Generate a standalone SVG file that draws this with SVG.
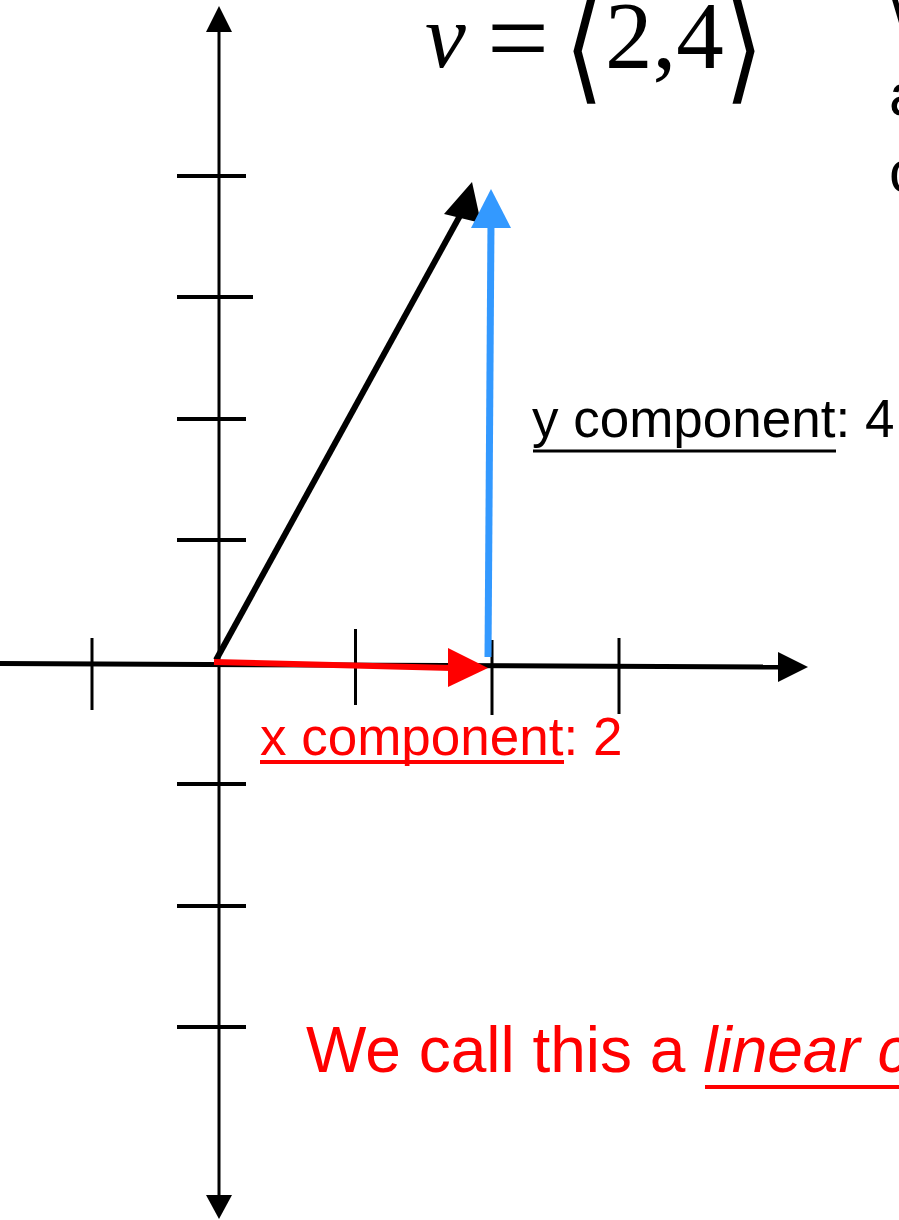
<svg xmlns="http://www.w3.org/2000/svg" width="899" height="1220" viewBox="0 0 899 1220">
<style>
.ax{stroke:#000;stroke-width:3;fill:none}
.tk{stroke:#000;stroke-width:4}
.tkx{stroke:#000;stroke-width:3}
.sans{font-family:"Liberation Sans",Arial,sans-serif}
.serif{font-family:"Liberation Serif","Times New Roman",serif}
.br{font-family:"DejaVu Serif",serif;font-size:100px}
</style>
<rect width="899" height="1220" fill="#fff"/>
<g id="axes">
  <line class="ax" x1="219" y1="28" x2="219" y2="1198"/>
  <polygon points="219,6 206,32 232,32" fill="#000"/>
  <polygon points="206,1195 232,1195 219,1219" fill="#000"/>
  <line x1="0" y1="663.5" x2="782" y2="667" stroke="#000" stroke-width="5"/>
  <polygon points="778,652 808,667 778,682" fill="#000"/>
  <line class="tk" x1="177" y1="176" x2="246" y2="176"/>
  <line class="tk" x1="177" y1="297" x2="253" y2="297"/>
  <line class="tk" x1="177" y1="419" x2="246" y2="419"/>
  <line class="tk" x1="177" y1="540" x2="246" y2="540"/>
  <line class="tk" x1="177" y1="784" x2="246" y2="784"/>
  <line class="tk" x1="177" y1="906" x2="246" y2="906"/>
  <line class="tk" x1="177" y1="1027" x2="246" y2="1027"/>
  <line class="tkx" x1="92" y1="638" x2="92" y2="710"/>
  <line class="tkx" x1="355.5" y1="629" x2="355.5" y2="705"/>
  <line class="tkx" x1="492" y1="640" x2="492" y2="715"/>
  <line class="tkx" x1="619" y1="638" x2="619" y2="714"/>
</g>
<g id="connectors">
  <g id="vector-v">
    <line x1="216" y1="660" x2="462" y2="212" stroke="#000" stroke-width="6"/>
    <polygon points="472,182 444,214 481,223" fill="#000"/>
  </g>
  <g id="y-component">
    <line x1="488" y1="657" x2="491" y2="222" stroke="#3399FF" stroke-width="7"/>
    <polygon points="471,228 491,189 511,228" fill="#3399FF"/>
  </g>
  <g id="x-component">
    <line x1="214" y1="662" x2="452" y2="668" stroke="#FF0000" stroke-width="6"/>
    <polygon points="448,648 488,668 448,687" fill="#FF0000"/>
  </g>
</g>
<g id="equation" class="serif" fill="#000">
  <text x="425" y="67" font-size="92" font-style="italic">v</text>
  <text x="518" y="75" font-size="110" text-anchor="middle">=</text>
  <text class="br" x="584" y="80" text-anchor="middle" transform="translate(0,32.8) scale(1,1.18) translate(0,-32.8)">⟨</text>
  <text x="605" y="68" font-size="95">2,4</text>
  <text class="br" x="744" y="80" text-anchor="middle" transform="translate(0,32.8) scale(1,1.18) translate(0,-32.8)">⟩</text>
</g>
<g id="right-text" class="sans" fill="#000" font-size="60">
  <text x="891" y="38">W</text>
  <text x="889" y="115">a</text>
  <text x="889" y="192">c</text>
</g>
<g id="label-y" class="sans" font-size="53" fill="#000">
  <text x="532" y="437">y component: 4</text>
  <line x1="533" y1="451" x2="836" y2="451" stroke="#000" stroke-width="3"/>
</g>
<g id="label-x" class="sans" font-size="53" fill="#FF0000">
  <text x="260" y="755">x component: 2</text>
  <line x1="260" y1="762" x2="564" y2="762" stroke="#FF0000" stroke-width="4"/>
</g>
<g id="caption" class="sans" font-size="64" fill="#FF0000">
  <text x="306" y="1072">We call this a <tspan font-style="italic">linear c</tspan></text>
  <line x1="705" y1="1087" x2="899" y2="1087" stroke="#FF0000" stroke-width="4"/>
</g>
</svg>
